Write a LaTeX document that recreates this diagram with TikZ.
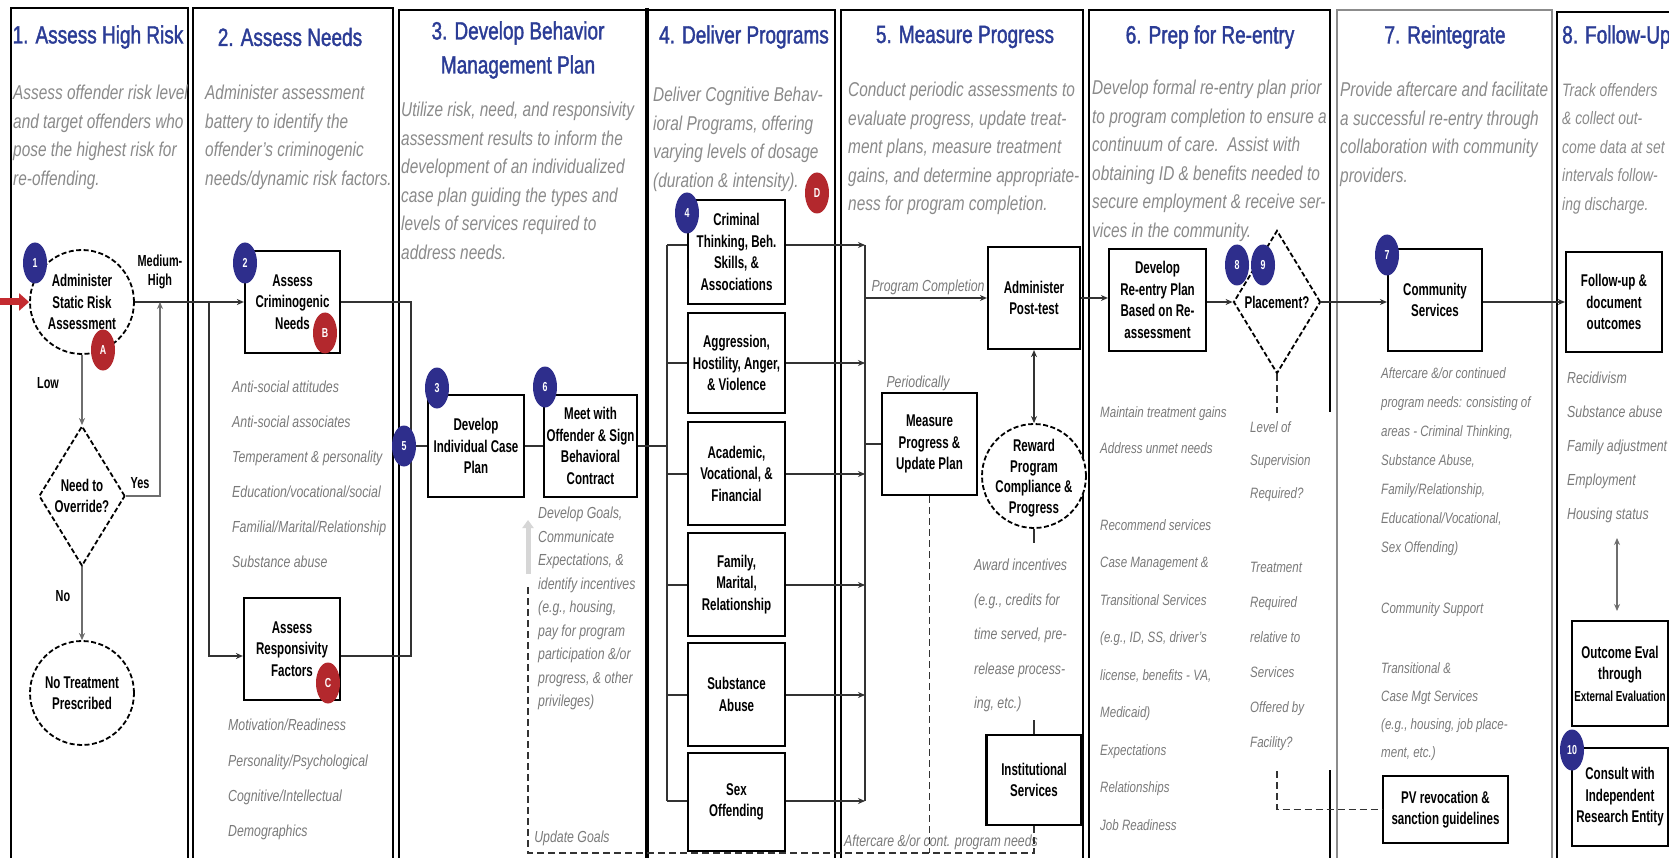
\documentclass[tikz,border=0pt]{standalone}
\usepackage{fontspec}
\setmainfont{Liberation Sans}[FakeStretch=0.77]
\newfontfamily\nodef{Liberation Sans}[FakeStretch=0.68]
\newfontfamily\ttlf{Liberation Sans}[FakeStretch=0.76,FakeBold=1.5]
\usetikzlibrary{arrows.meta,shapes.geometric}
\definecolor{ttlblue}{HTML}{2B3C96}
\definecolor{bdgblue}{HTML}{2E2E8C}
\definecolor{bdgred}{HTML}{B3282D}
\definecolor{cDesc}{HTML}{8A8A8A}
\definecolor{cList}{HTML}{7A7A7A}
\definecolor{cLine}{HTML}{333333}
\definecolor{cLight}{HTML}{6E6E6E}
\definecolor{cRed}{HTML}{C42B30}
\definecolor{cGhost}{HTML}{D6D6D6}
\definecolor{cCol}{HTML}{8C8C8C}
\tikzset{
  frame/.style={draw=black,line width=2pt},
  ttl/.style={text=ttlblue,font=\ttlf\fontsize{25}{34}\selectfont,align=center,inner sep=0pt},
  dsc/.style={text=cDesc,font=\itshape\fontsize{20}{28.5}\selectfont,align=left,anchor=north west,inner sep=0pt},
  glst/.style={text=cList,font=\itshape\fontsize{16}{#1}\selectfont,align=left,anchor=north west,inner sep=0pt},
  glsts/.style={text=cList,font=\itshape\fontsize{15}{#1}\selectfont,align=left,anchor=north west,inner sep=0pt},
  glbl/.style={text=cList,font=\itshape\fontsize{16}{20}\selectfont,inner sep=0pt},
  box/.style={draw=black,line width=2.2pt,fill=white,font=\nodef\bfseries\fontsize{17}{21.5}\selectfont,align=center,inner sep=1pt},
  btext/.style={font=\nodef\bfseries\fontsize{17}{20.5}\selectfont,align=center,inner sep=0pt},
  rnd/.style={circle,draw=black,line width=1.8pt,dash pattern=on 5pt off 2.5pt,fill=white,font=\nodef\bfseries\fontsize{17}{21.5}\selectfont,align=center,inner sep=0pt,minimum size=104pt},
  dmd/.style={diamond,aspect=0.6,draw=black,line width=1.8pt,dash pattern=on 5pt off 2.5pt,fill=white,font=\nodef\bfseries\fontsize{17}{21.5}\selectfont,align=center,inner sep=0pt},
  bb/.style={ellipse,fill=bdgblue,text=white,font=\nodef\bfseries\fontsize{13}{13}\selectfont,minimum width=24pt,minimum height=41pt,inner sep=0pt},
  br/.style={bb,fill=bdgred},
  lbl/.style={font=\nodef\bfseries\fontsize{16}{19}\selectfont,align=center,inner sep=0pt},
  conn/.style={draw=cLine,line width=2pt},
  arr/.style={conn,-{Stealth[length=7pt,width=6pt]}},
  darr/.style={conn,{Stealth[length=7pt,width=6pt]}-{Stealth[length=7pt,width=6pt]}},
  dsh/.style={draw=cLine,line width=1.6pt,dash pattern=on 7pt off 4pt},
  redarr/.style={draw=cRed,line width=7pt,-{Triangle[length=10pt,width=17pt]}},
  ghostarr/.style={draw=cGhost,line width=5pt,-{Triangle[length=8pt,width=11pt]}}
}
\begin{document}
\begin{tikzpicture}[x=1pt,y=-1pt]
\useasboundingbox (0,0) rectangle (1669,858);
\clip (0,0) rectangle (1669,858);
\fill[white] (0,0) rectangle (1669,858);

% column frames
\draw[frame] (11,870) -- (11,8) -- (188,8) -- (188,870);
\draw[frame] (193,870) -- (193,8) -- (393,8) -- (393,870);
\draw[frame] (399,870) -- (399,10) -- (646,10);
\draw[line width=4.5pt] (647,8) -- (647,870);
\draw[frame] (649,10) -- (835,10) -- (835,870);
\draw[frame] (841,870) -- (841,10) -- (1083,10) -- (1083,870);
\draw[frame] (1089,870) -- (1089,10) -- (1330,10) -- (1330,412);
\draw[frame] (1330,770) -- (1330,870);
\draw[frame,draw=cCol] (1337,870) -- (1337,10) -- (1552,10) -- (1552,870);
\draw[frame] (1557,870) -- (1557,12) -- (1690,12);

% titles
\node[ttl] (t1) at (98,37) {1. Assess High Risk};
\node[ttl] (t2) at (290,37) {2. Assess Needs};
\node[ttl] (t3) at (518,50) {3. Develop Behavior\\Management Plan};
\node[ttl] (t4) at (744,37) {4. Deliver Programs};
\node[ttl] (t5) at (965,37) {5. Measure Progress};
\node[ttl] (t6) at (1210,37) {6. Prep for Re-entry};
\node[ttl] (t7) at (1445,37) {7. Reintegrate};
\node[ttl,anchor=west] (t8) at (1562,37) {8. Follow-Up};

% descriptions
\node[dsc] (ds1) at (13,85) {Assess offender risk level\\and target offenders who\\pose the highest risk for\\re-offending.};
\node[dsc] (ds2) at (205,85) {Administer assessment\\battery to identify the\\offender's criminogenic\\needs/dynamic risk factors.};
\node[dsc] (ds3) at (401,102) {Utilize risk, need, and responsivity\\assessment results to inform the\\development of an individualized\\case plan guiding the types and\\levels of services required to\\address needs.};
\node[dsc] (ds4) at (653,87) {Deliver Cognitive Behav-\\ioral Programs, offering\\varying levels of dosage\\(duration \& intensity).};
\node[dsc] (ds5) at (848,82) {Conduct periodic assessments to\\evaluate progress, update treat-\\ment plans, measure treatment\\gains, and determine appropriate-\\ness for program completion.};
\node[dsc] (ds6) at (1092,80) {Develop formal re-entry plan prior\\to program completion to ensure a\\continuum of care.\ \ Assist with\\obtaining ID \& benefits needed to\\secure employment \& receive ser-\\vices in the community.};
\node[dsc] (ds7) at (1340,82) {Provide aftercare and facilitate\\a successful re-entry through\\collaboration with community\\providers.};
\node[dsc,font=\itshape\fontsize{18}{28.5}\selectfont] (ds8) at (1562,83) {Track offenders\\\& collect out-\\come data at set\\intervals follow-\\ing discharge.};

% column 1
\node[rnd] (c1) at (82,302) {Administer\\Static Risk\\Assessment};
\node[lbl] (mh) at (160,272) {Medium-\\High};
\node[dmd,minimum width=86pt,minimum height=140pt] (nov) at (82,496) {Need to\\Override?};
\node[lbl] (low) at (48,383) {Low};
\node[lbl] (yes) at (140,483) {Yes};
\node[lbl] (no) at (63,596) {No};
\node[rnd] (c2) at (82,693) {No Treatment\\Prescribed};
\coordinate (rs) at (0,302);
\coordinate (j1) at (160,302);
\coordinate (j2) at (209,302);

% column 2
\node[box,minimum width=95pt,minimum height=102pt] (crim) at (292.5,302) {Assess\\Criminogenic\\Needs};
\node[box,minimum width=96pt,minimum height=102pt] (resp) at (292,649) {Assess\\Responsivity\\Factors};
\node[glst=35] (l2a) at (232,381) {Anti-social attitudes\\Anti-social associates\\Temperament \& personality\\Education/vocational/social\\Familial/Marital/Relationship\\Substance abuse};
\node[glst=35.3] (l2b) at (228,719) {Motivation/Readiness\\Personality/Psychological\\Cognitive/Intellectual\\Demographics};
\coordinate (rb1) at (411,302);
\coordinate (rb2) at (411,656);
\coordinate (j5) at (411,446);

% column 3
\node[box,minimum width=96pt,minimum height=102pt] (dev) at (476,446) {Develop\\Individual Case\\Plan};
\node[box,minimum width=93pt,minimum height=102pt] (meet) at (590.5,446) {Meet with\\Offender \& Sign\\Behavioral\\Contract};
\node[glst=23.5] (goals) at (538,507) {Develop Goals,\\Communicate\\Expectations, \&\\identify incentives\\(e.g., housing,\\pay for program\\participation \&/or\\progress, \& other\\privileges)};
\node[glbl] (ug) at (572,838) {Update Goals};
\coordinate (ua1) at (528,574);
\coordinate (ua2) at (528,520);
\coordinate (dl1) at (528,584);
\coordinate (dl2) at (528,853);
\coordinate (dl3) at (1034,853);

% column 4
\node[box,minimum width=97pt,minimum height=104pt] (p1) at (736.5,252) {Criminal\\Thinking, Beh.\\Skills, \&\\Associations};
\node[box,minimum width=97pt,minimum height=100pt] (p2) at (736.5,363) {Aggression,\\Hostility, Anger,\\\& Violence};
\node[box,minimum width=97pt,minimum height=103pt] (p3) at (736.5,473.5) {Academic,\\Vocational, \&\\Financial};
\node[box,minimum width=97pt,minimum height=103pt] (p4) at (736.5,584.5) {Family,\\Marital,\\Relationship};
\node[box,minimum width=97pt,minimum height=103pt] (p5) at (736.5,694.5) {Substance\\Abuse};
\node[box,minimum width=97pt,minimum height=98pt] (p6) at (736.5,802) {Sex\\Offending};
\coordinate (bl1) at (667,245); \coordinate (br1) at (865,245);
\coordinate (bl2) at (667,363); \coordinate (br2) at (865,363);
\coordinate (bl3) at (667,474); \coordinate (br3) at (865,474);
\coordinate (bl4) at (667,585); \coordinate (br4) at (865,585);
\coordinate (bl5) at (667,695); \coordinate (br5) at (865,695);
\coordinate (bl6) at (667,801); \coordinate (br6) at (865,801);

% column 5
\node[glbl] (pc) at (928,287) {Program Completion};
\node[box,minimum width=92pt,minimum height=102pt] (post) at (1034,298) {Administer\\Post-test};
\node[glbl] (per) at (918,383) {Periodically};
\node[box,minimum width=95pt,minimum height=102pt] (meas) at (929.5,444) {Measure\\Progress \&\\Update Plan};
\node[rnd] (rew) at (1034,476) {};
\node[btext] (rewt) at (1034,478) {Reward\\Program\\Compliance \&\\Progress};
\node[glst=34.5] (award) at (974,559) {Award incentives\\(e.g., credits for\\time served, pre-\\release process-\\ing, etc.)};
\node[box,minimum width=95pt,minimum height=90pt] (inst) at (1034,780) {Institutional\\Services};
\node[glbl] (acp) at (941,842) {Aftercare \&/or cont. program needs};
\coordinate (aw1) at (1034,543);
\coordinate (aw2) at (1034,720);

% column 6
\node[box,minimum width=97pt,minimum height=102pt] (reen) at (1157.5,300) {Develop\\Re-entry Plan\\Based on Re-\\assessment};
\node[dmd,minimum width=87pt,minimum height=143pt] (plc) at (1277,302) {Placement?};
\node[glsts=36] (mt) at (1100,406) {Maintain treatment gains\\Address unmet needs};
\node[glsts=37.5] (rsv) at (1100,519) {Recommend services\\Case Management \&\\Transitional Services\\(e.g., ID, SS, driver's\\license, benefits - VA,\\Medicaid)\\Expectations\\Relationships\\Job Readiness};
\node[glsts=33] (lvl) at (1250,421) {Level of\\Supervision\\Required?};
\node[glsts=35] (trt) at (1250,562) {Treatment\\Required\\relative to\\Services\\Offered by\\Facility?};
\coordinate (lv1) at (1277,413);
\coordinate (tr1) at (1277,771);

% column 7
\node[box,minimum width=94pt,minimum height=102pt] (comm) at (1435,300) {Community\\Services};
\node[glsts=29] (ac) at (1381,367) {Aftercare \&/or continued\\program needs: consisting of\\areas - Criminal Thinking,\\Substance Abuse,\\Family/Relationship,\\Educational/Vocational,\\Sex Offending)};
\node[glsts=20] (cs) at (1381,602) {Community Support};
\node[glsts=28] (tc) at (1381,662) {Transitional \&\\Case Mgt Services\\(e.g., housing, job place-\\ment, etc.)};
\node[box,minimum width=125pt,minimum height=67pt] (pv) at (1445.5,809.5) {PV revocation \&\\sanction guidelines};

% column 8
\node[box,minimum width=96pt,minimum height=100pt] (fol) at (1614,302) {Follow-up \&\\document\\outcomes};
\node[glst=34] (rc8) at (1567,372) {Recidivism\\Substance abuse\\Family adjustment\\Employment\\Housing status};
\node[box,minimum width=96pt,minimum height=105pt] (out) at (1620,673.5) {Outcome Eval\\through\\{\fontsize{14.5}{21.5}\selectfont External Evaluation}};
\node[box,minimum width=96pt,minimum height=98pt] (cons) at (1620,797) {Consult with\\Independent\\Research Entity};
\coordinate (da1) at (1617,538);
\coordinate (da2) at (1617,611);

% connectors
\draw[redarr] (rs) -- (c1.west);
\draw[arr] (c1) -- (crim);
\draw[arr,draw=cLight] (c1) -- (nov);
\draw[arr,draw=cLight] (nov.east) -| (j1);
\draw[arr,draw=cLight] (nov) -- (c2);
\draw[arr] (j2) |- ([yshift=-7pt]resp.west);
\draw[conn] (crim.east) -- (rb1) -- (rb2) -- ([yshift=-7pt]resp.east);
\draw[conn] (j5) -- (dev.west);
\draw[conn] (dev) -- (meet);
\draw[conn] (meet.east) -- (meet.east -| bl1);
\draw[ghostarr] (ua1) -- (ua2);
\draw[dsh] (inst.south) -- (dl3) -- (dl2) -- (dl1);
\draw[dsh] (meas.south) -- (meas.south |- dl3);
\draw[conn] (bl1) -- (bl6);
\draw[conn] (br1) -- (br6);
\draw[conn] (bl1) -- (bl1 -| p1.west);
\draw[conn] (bl2) -- (bl2 -| p2.west);
\draw[conn] (bl3) -- (bl3 -| p3.west);
\draw[conn] (bl4) -- (bl4 -| p4.west);
\draw[conn] (bl5) -- (bl5 -| p5.west);
\draw[conn] (bl6) -- (bl6 -| p6.west);
\draw[arr] (br1 -| p1.east) -- (br1);
\draw[arr] (br2 -| p2.east) -- (br2);
\draw[arr] (br3 -| p3.east) -- (br3);
\draw[arr] (br4 -| p4.east) -- (br4);
\draw[arr] (br5 -| p5.east) -- (br5);
\draw[arr] (br6 -| p6.east) -- (br6);
\draw[arr] (post.west -| br1) -- (post.west);
\draw[conn] (meas.west -| br1) -- (meas.west);
\draw[darr] (post) -- (rew);
\draw[conn] (rew.south) -- (aw1);
\draw[conn] (aw2) -- (inst.north);
\draw[arr] (post.east) -- (post.east -| reen.west);
\draw[arr] (reen.east |- plc.west) -- (plc.west);
\draw[dsh] (plc.south) -- (lv1);
\draw[dsh] (tr1) |- (pv.west);
\draw[arr] (plc.east) -- (plc.east -| comm.west);
\draw[arr] (comm.east |- fol.west) -- (fol.west);
\draw[darr,draw=cLight] (da1) -- (da2);

% badges
\node[bb] (b1) at (35,263) {1};
\node[br] (ra) at (103,350) {A};
\node[bb] (b2) at (245,263) {2};
\node[br] (rbb) at (325,333) {B};
\node[br] (rcc) at (328,683) {C};
\node[bb] (b5) at (404,446) {5};
\node[bb] (b3) at (437,388) {3};
\node[bb] (b6) at (545,387) {6};
\node[bb] (b4) at (687,213) {4};
\node[br] (rdd) at (817,193) {D};
\node[bb] (b8) at (1237,265) {8};
\node[bb] (b9) at (1263,265) {9};
\node[bb] (b7) at (1387,255) {7};
\node[bb] (b10) at (1572,750) {10};
\end{tikzpicture}
\end{document}
